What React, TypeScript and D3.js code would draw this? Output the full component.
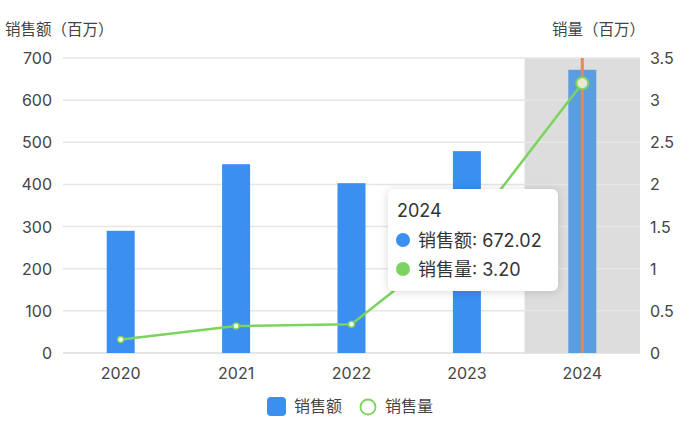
import React from 'react';
import * as d3 from 'd3';

const years = ['2020', '2021', '2022', '2023', '2024'];
const salesAmount = [290, 448, 403, 479, 672.02];
const salesVolume = [0.16, 0.32, 0.34, 1.42, 3.2];
const leftTicks = [0, 100, 200, 300, 400, 500, 600, 700];
const rightTicks = [0, 0.5, 1, 1.5, 2, 2.5, 3, 3.5];
const activeIndex = 4;

const W = 697;
const H = 428;
const margin = { top: 58, right: 57, bottom: 75, left: 63 };
const FONT = 'Inter, "Noto Sans CJK SC", sans-serif';

const App: React.FC = () => {
    const x = d3.scaleBand<string>()
        .domain(years)
        .range([margin.left, W - margin.right]);
    const yLeft = d3.scaleLinear().domain([0, 700]).range([H - margin.bottom, margin.top]);
    const yRight = d3.scaleLinear().domain([0, 3.5]).range([H - margin.bottom, margin.top]);

    const cx = (d: string) => (x(d) as number) + x.bandwidth() / 2;
    const barW = 28;

    const line = d3.line<number>()
        .x((_, i) => cx(years[i]))
        .y(d => yRight(d));

    const activeYear = years[activeIndex];

    return (
        <svg width={W} height={H} style={{ position: 'absolute', left: 0, top: 0, fontFamily: FONT }}>
            {/* axis titles */}
            <text x={5} y={35} fontSize={15.5} fill="#444">销售额（百万）</text>
            <text x={645} y={35} fontSize={15.5} fill="#444" textAnchor="end">销量（百万）</text>

            {/* shadow pointer */}
            <rect x={x(activeYear)} y={margin.top} width={x.bandwidth()}
                height={H - margin.bottom - margin.top} fill="#dddddd" />

            {/* grid */}
            {leftTicks.map(t => (
                <line key={t} x1={margin.left} x2={W - margin.right} y1={yLeft(t)} y2={yLeft(t)}
                    stroke={t === 0 ? '#dcdcdc' : '#e6e6e6'} strokeWidth={1.5} />
            ))}

            {/* left ticks */}
            {leftTicks.map(t => (
                <text key={t} x={52} y={yLeft(t) + 6} fontSize={16} fill="#444" textAnchor="end">{t}</text>
            ))}
            {/* right ticks */}
            {rightTicks.map(t => (
                <text key={t} x={650} y={yRight(t) + 6} fontSize={16} fill="#444">{t}</text>
            ))}
            {/* x ticks */}
            {years.map(d => (
                <text key={d} x={cx(d)} y={379} fontSize={16} fill="#444" textAnchor="middle">{d}</text>
            ))}

            {/* bars */}
            {years.map((d, i) => (
                <rect key={d} x={cx(d) - barW / 2} y={yLeft(salesAmount[i])} width={barW}
                    height={yLeft(0) - yLeft(salesAmount[i])}
                    fill={i === activeIndex ? '#5a9de0' : '#3a8ff0'} />
            ))}

            {/* line */}
            <path d={line(salesVolume) || ''} fill="none" stroke="#7dd35f" strokeWidth={2.5} />
            {salesVolume.map((v, i) => i === activeIndex ? null : (
                <circle key={i} cx={cx(years[i])} cy={yRight(v)} r={3} fill="#fff" stroke="#7dd35f" strokeWidth={1.5} />
            ))}

            {/* vertical pointer */}
            <line x1={cx(activeYear)} x2={cx(activeYear)} y1={margin.top} y2={H - margin.bottom}
                stroke="#e0895b" strokeWidth={3} />
            <circle cx={cx(activeYear)} cy={yRight(salesVolume[activeIndex])} r={6}
                fill="#f2f0d8" fillOpacity={0.9} stroke="#7dd35f" strokeWidth={2} />

            {/* tooltip */}
            <g>
                <rect x={388} y={189} width={170} height={102} rx={6} fill="#fff"
                    style={{ filter: 'drop-shadow(0 1px 4px rgba(0,0,0,0.15))' }} />
                <text x={397} y={217} fontSize={18} fill="#333">{activeYear}</text>
                <circle cx={403} cy={240} r={7} fill="#3a8ff0" />
                <text x={418} y={246.5} fontSize={18} fill="#333">销售额: {salesAmount[activeIndex].toFixed(2)}</text>
                <circle cx={403} cy={269} r={7} fill="#7dd35f" />
                <text x={418} y={275.5} fontSize={18} fill="#333">销售量: {salesVolume[activeIndex].toFixed(2)}</text>
            </g>

            {/* legend */}
            <rect x={267} y={397} width={19} height={19} rx={4} fill="#3a8ff0" />
            <text x={294} y={412} fontSize={16} fill="#444">销售额</text>
            <circle cx={368} cy={407} r={7.5} fill="#fff" stroke="#7dd35f" strokeWidth={1.8} />
            <text x={385} y={412} fontSize={16} fill="#444">销售量</text>
        </svg>
    );
};

export default App;
